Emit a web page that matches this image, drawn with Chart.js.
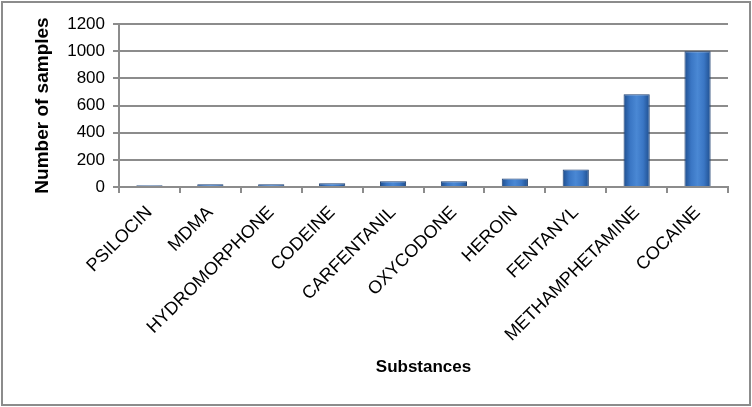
<!DOCTYPE html>
<html>
<head>
<meta charset="utf-8">
<script src="https://cdn.jsdelivr.net/npm/chart.js@4.4.0/dist/chart.umd.min.js"></script>
<style>
  html, body { margin: 0; padding: 0; background: #fff; }
  #wrap { position: relative; width: 752px; height: 407px; }
  #frame { position: absolute; left: 1px; top: 1px; width: 750px; height: 405px; box-sizing: border-box; border: 2px solid #8c8c8c; pointer-events: none; }
</style>
</head>
<body>
<div id="wrap">
  <canvas id="chart" width="752" height="407"></canvas>
  <div id="frame"></div>
</div>
<script>
const substances = ["PSILOCIN", "MDMA", "HYDROMORPHONE", "CODEINE", "CARFENTANIL", "OXYCODONE", "HEROIN", "FENTANYL", "METHAMPHETAMINE", "COCAINE"];
const samples = [12, 20, 20, 27, 42, 42, 62, 128, 682, 1000];
const yTicks = [0, 200, 400, 600, 800, 1000, 1200];

const FONT = "'Liberation Sans', Arial, sans-serif";
const GRID = "#8c8c8c";

// glossy bar fill: dark edges, lighter middle
function barFill(ctx) {
  const chart = ctx.chart;
  const x = chart.scales && chart.scales.x;
  if (!chart.chartArea || !x || ctx.dataIndex === undefined) return "#3a74c0";
  const cx = x.getPixelForValue(ctx.dataIndex);
  const half = 13;
  const g = chart.ctx.createLinearGradient(cx - half, 0, cx + half, 0);
  g.addColorStop(0, "#1f4f8f");
  g.addColorStop(0.25, "#3a76c4");
  g.addColorStop(0.5, "#4a88d4");
  g.addColorStop(0.75, "#3a76c4");
  g.addColorStop(1, "#1f4f8f");
  return g;
}

new Chart(document.getElementById("chart"), {
  type: "bar",
  data: {
    labels: substances,
    datasets: [{
      data: samples,
      backgroundColor: barFill,
      borderColor: "#1d3f70",
      borderWidth: 1,
      categoryPercentage: 1,
      barPercentage: 0.43
    }]
  },
  options: {
    responsive: false,
    animation: false,
    events: [],
    layout: { padding: { left: 27, top: 24, right: 24, bottom: 20 } },
    plugins: { legend: { display: false }, tooltip: { enabled: false } },
    scales: {
      x: {
        offset: true,
        grid: { offset: true, drawOnChartArea: false, drawTicks: true, tickLength: 6, color: GRID, lineWidth: 2 },
        border: { color: GRID, width: 2 },
        ticks: { minRotation: 45, maxRotation: 45, padding: 9, color: "#000", font: { family: FONT, size: 18 } },
        title: { display: true, text: "Substances", color: "#000", padding: { top: 0, bottom: 9 }, font: { family: FONT, size: 17, weight: "bold" } },
        afterFit: s => { s.height = 407 - 187 - 20; }
      },
      y: {
        min: 0, max: 1200,
        afterBuildTicks: s => { s.ticks = yTicks.map(v => ({ value: v })); },
        grid: { color: GRID, lineWidth: 2, tickLength: 6 },
        border: { color: GRID, width: 2 },
        ticks: { padding: 8, color: "#000", font: { family: FONT, size: 17 }, callback: v => String(v) },
        title: { display: true, text: "Number of samples", color: "#000", padding: { top: 4, bottom: 0 }, font: { family: FONT, size: 19, weight: "bold" } },
        afterFit: s => { s.width = 119 - 27; }
      }
    }
  }
});
</script>
</body>
</html>
